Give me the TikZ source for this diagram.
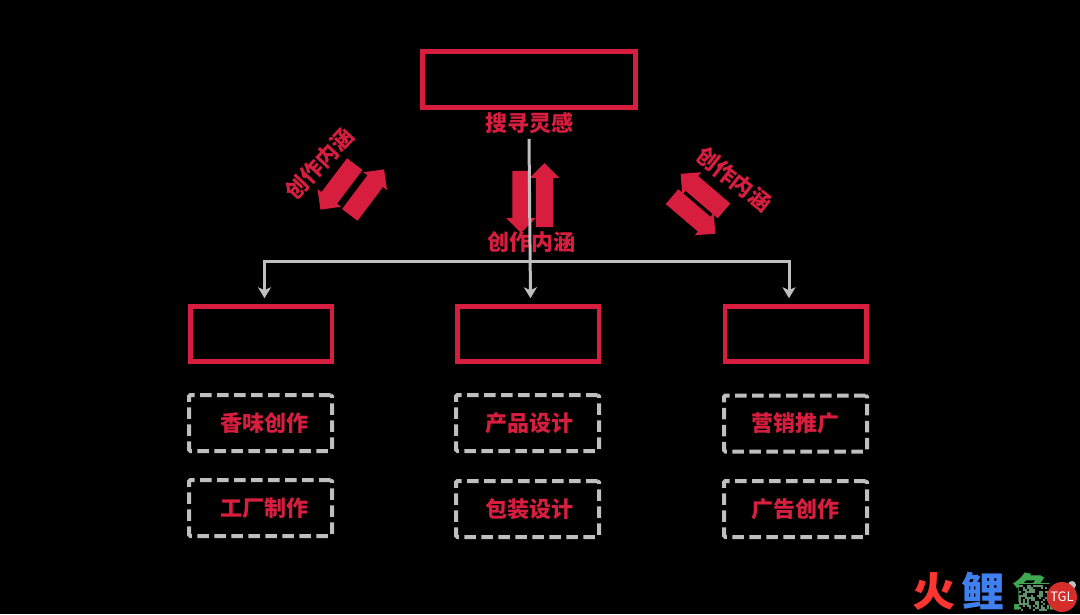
\documentclass[tikz,border=0pt]{standalone}
\usepackage{fontspec}
\setmainfont{Noto Sans CJK SC}[BoldFont={Noto Sans CJK SC Black}]
\newfontfamily\logofont{Noto Sans CJK SC Black}
\usetikzlibrary{shapes.arrows,calc,arrows.meta}
\definecolor{brandred}{HTML}{D81E3F}
\definecolor{linegray}{HTML}{BFBFBF}
\definecolor{logored}{HTML}{FB3532}
\definecolor{logoblue}{HTML}{4080EE}
\definecolor{logogreen}{HTML}{3FA652}
\tikzset{
  x=1pt,y=-1pt,
  mainbox/.style={draw=brandred,line width=4.5pt,fill=black,inner sep=0pt},
  dashbox/.style={draw=linegray,line width=4pt,dash pattern=on 11.5pt off 5.5pt,rounded corners=1.5pt,
    minimum width=143pt,minimum height=56pt,inner sep=0pt,font=\bfseries\fontsize{22}{22}\selectfont,text=brandred},
  lbl/.style={font=\bfseries\fontsize{22}{22}\selectfont,text=brandred,inner sep=0pt},
  redarrow/.style={single arrow,fill=brandred,draw=none,inner sep=0pt,text height=17pt,text depth=0pt,text width=0pt,
    single arrow head extend=6pt,single arrow head indent=0pt},
  fatarrow/.style={redarrow,text height=19pt,single arrow head extend=5pt},
  conn/.style={draw=linegray,line width=3pt},
  tipped/.style={conn,-{Stealth[length=11pt,width=13pt,inset=3pt]}},
  logo/.style={font=\logofont\fontsize{40}{40}\selectfont,inner sep=0pt,xscale=1.08},
}
\newcommand{\nudge}[1]{\hspace*{#1}}
\begin{document}
\begin{tikzpicture}
\useasboundingbox (0,0) rectangle (1080,614);
\fill[black] (0,0) rectangle (1080,614);

% main boxes
\node[mainbox,minimum width=213pt,minimum height=56pt] (top) at (529,79.5) {};
\node[mainbox,minimum width=141.5pt,minimum height=55pt] (mL) at (261,334) {};
\node[mainbox,minimum width=141.5pt,minimum height=55pt] (mM) at (528,334) {};
\node[mainbox,minimum width=141.5pt,minimum height=55pt] (mR) at (795.5,334) {};

% dashed boxes
\node[dashbox] (d1) at (260.5,423) {\nudge{7pt}香味创作};
\node[dashbox] (d2) at (260.5,508) {\nudge{7pt}工厂制作};
\node[dashbox] (d3) at (527.5,423) {\nudge{4pt}产品设计};
\node[dashbox] (d4) at (527.5,509) {\nudge{4pt}包装设计};
\node[dashbox] (d5) at (795.5,423.5) {营销推广};
\node[dashbox] (d6) at (795.5,509) {广告创作};

% labels
\node[lbl] (find) at (529,123) {搜寻灵感};
\node[lbl] (make) at (531,242) {创作内涵};
\node[lbl,rotate=47] (makeL) at (319,164) {创作内涵};
\node[lbl,rotate=-38] (makeR) at (734,179) {创作内涵};

% block arrows
\node[redarrow,rotate=-90,minimum height=62pt] (aCd) at (521,197.5) {};
\node[redarrow,rotate=90,minimum height=64pt] (aCu) at (544.5,199.5) {};
\node[fatarrow,rotate=233,minimum height=57pt] (aLd) at (340.5,183) {};
\node[fatarrow,rotate=53,minimum height=57pt] (aLu) at (364,196) {};
\node[fatarrow,rotate=139.5,minimum height=57pt] (aRu) at (706,195.5) {};
\node[fatarrow,rotate=-40.5,minimum height=57pt] (aRd) at (690,212) {};

% connectors
\coordinate (busL) at ($(mL.north)+(3.5,-43)$);
\coordinate (busR) at ($(mR.north)+(-6.5,-43)$);
\coordinate (tipL) at ($(mL.north)+(3.5,-6)$);
\coordinate (tipM) at ($(mM.north)+(2.5,-6)$);
\coordinate (tipR) at ($(mR.north)+(-6.5,-6)$);
\coordinate (trunk) at ($(find.south)+(0,5)$);
\draw[tipped] (trunk) -- (tipM);
\draw[tipped] (busL) -- (tipL);
\draw[tipped] (busR) -- (tipR);
\draw[conn,line cap=rect] (busL) -- (busR);

% logo
\node[logo,text=logored] (l1) at (934,591) {火};
\node[logo,text=logoblue] (l2) at (983,591) {鲤};
\node[logo,text=logogreen] (l3) at (1034,591) {鱼};
\fill[black] (1019,584) rectangle (1050,611);
\pgfmathsetseed{7}
\foreach \i in {0,...,14}{\foreach \j in {0,...,12}{
  \pgfmathsetmacro{\g}{int(rnd*100)}
  \ifnum\g>45 \fill[logogreen!45!gray] (1019+2*\i,585+2*\j) rectangle ++(2,2);\fi
}}
\fill[linegray] (1072,585) circle (4);
\fill[linegray] (1074,596) circle (2.5);
\node[circle,fill=logored!85!black,minimum size=30pt,inner sep=0pt,text=white,font=\fontsize{13}{13}\selectfont] (tgl) at (1062,597) {TGL};
\end{tikzpicture}
\end{document}
